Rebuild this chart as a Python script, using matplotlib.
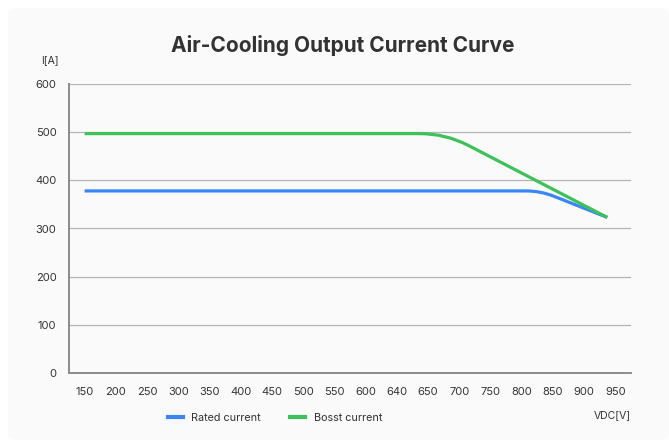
import matplotlib
matplotlib.use('Agg')
import matplotlib.pyplot as plt
from matplotlib.path import Path
from matplotlib.patches import PathPatch, FancyBboxPatch
from matplotlib.lines import Line2D
import numpy as np

# Category labels on the x axis (VDC)
vdc_labels = [150, 200, 250, 300, 350, 400, 450, 500, 550, 600,
              640, 650, 700, 750, 800, 850, 900, 950]

# Curve break points (VDC, A)
rated_vdc = [150, 830, 937]
rated_a = [378, 378, 323]
boost_vdc = [150, 678, 937]
boost_a = [497, 497, 323]

y_ticks = [0, 100, 200, 300, 400, 500, 600]

BLUE = '#3b86f7'
GREEN = '#3dc15a'
TEXT = '#333333'
GRID = '#b4b4b4'


def to_pos(vdc):
    # place VDC values on the category axis
    return np.interp(vdc, vdc_labels, np.arange(len(vdc_labels)))


def smooth_path(xs, ys, ax, frac=0.2):
    # straight segments with rounded corners (quadratic bezier at each corner),
    # built in pixel space so the rounding looks even
    pts = ax.transData.transform(np.column_stack([xs, ys]))
    verts = [pts[0]]
    codes = [Path.MOVETO]
    for i in range(1, len(pts) - 1):
        a, b, c = pts[i - 1], pts[i], pts[i + 1]
        d = frac * min(np.linalg.norm(b - a), np.linalg.norm(c - b))
        p1 = b + (a - b) / np.linalg.norm(a - b) * d
        p2 = b + (c - b) / np.linalg.norm(c - b) * d
        verts += [p1, b, p2]
        codes += [Path.LINETO, Path.CURVE3, Path.CURVE3]
    verts.append(pts[-1])
    codes.append(Path.LINETO)
    return Path(verts, codes)


fig = plt.figure(figsize=(6.69, 4.40), dpi=100)
fig.patch.set_facecolor('white')
panel = FancyBboxPatch((8 / 669, 0), 1 - 8 / 669, 1 - 8 / 440,
                       boxstyle='round,pad=0,rounding_size=0.015',
                       transform=fig.transFigure, facecolor='#fafafa',
                       edgecolor='none', zorder=-10)
fig.patches.append(panel)

ax = fig.add_axes([69 / 669, 1 - 373 / 440, (631 - 69) / 669, (373 - 84) / 440])
ax.set_facecolor('none')
ax.set_xlim(-0.5, len(vdc_labels) - 0.5)
ax.set_ylim(0, 600)
ax.set_clip_on(False)

for s in ['top', 'right']:
    ax.spines[s].set_visible(False)
for s in ['left', 'bottom']:
    ax.spines[s].set_color('#8c8c8c')
    ax.spines[s].set_linewidth(1.4)

ax.set_yticks(y_ticks)
ax.set_yticklabels([str(v) for v in y_ticks])
ax.set_xticks(np.arange(len(vdc_labels)))
ax.set_xticklabels([str(v) for v in vdc_labels])
ax.tick_params(length=0, labelsize=8, colors=TEXT, pad=10)
ax.tick_params(axis='y', pad=9)
for lab in ax.get_xticklabels() + ax.get_yticklabels():
    lab.set_family('Inter')

for v in y_ticks[1:]:
    ax.axhline(v, color=GRID, lw=0.9, zorder=1)

for vdc, amps, col, z, frac in [(boost_vdc, boost_a, GREEN, 3, 0.14),
                                (rated_vdc, rated_a, BLUE, 2, 0.2)]:
    path = smooth_path(to_pos(vdc), amps, ax, frac)
    patch = PathPatch(path, facecolor='none', edgecolor=col, lw=2.3,
                      transform=None, zorder=z, capstyle='butt')
    ax.add_artist(patch)

fig.text(0.512, 1 - 46 / 440, 'Air-Cooling Output Current Curve', ha='center', va='center',
         fontsize=15.05, fontweight='bold', family='Inter', color=TEXT)
fig.text(50 / 669, 1 - 60 / 440, 'I[A]', ha='center', va='center',
         fontsize=7.5, family='Inter', color=TEXT)
fig.text(612 / 669, 1 - 415 / 440, 'VDC[V]', ha='center', va='center',
         fontsize=7.5, family='Inter', color=TEXT)

handles = [Line2D([], [], color=BLUE, lw=3), Line2D([], [], color=GREEN, lw=3)]
leg = fig.legend(handles, ['Rated current', 'Bosst current'], loc='center',
                 bbox_to_anchor=(275 / 669, 1 - 418 / 440), ncol=2, frameon=False,
                 handlelength=1.35, columnspacing=2.7, handletextpad=0.8,
                 prop={'family': 'Inter', 'size': 7.8})
for t in leg.get_texts():
    t.set_color(TEXT)

fig.savefig('out.png', dpi=100, facecolor=fig.get_facecolor())
